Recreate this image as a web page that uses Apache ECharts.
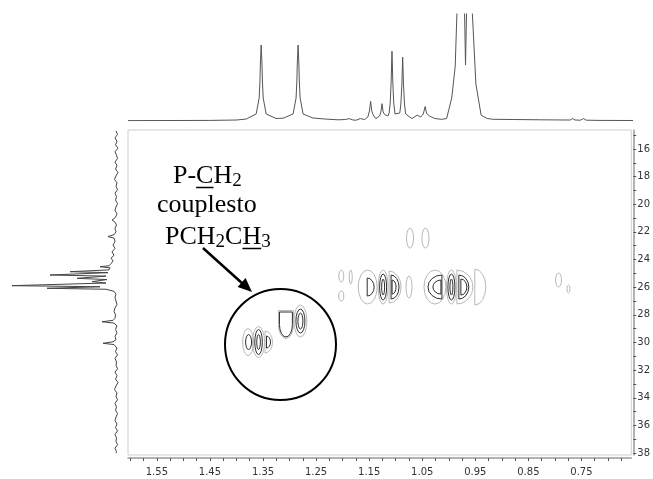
<!DOCTYPE html>
<html><head><meta charset="utf-8">
<script src="https://cdn.jsdelivr.net/npm/echarts@6/dist/echarts.min.js"></script>
<style>html,body{margin:0;padding:0;background:#fff}#c{width:653px;height:479px}</style>
</head><body><div id="c"></div>
<script>
// ---- axis data ----
const xTickLabels = [1.55, 1.45, 1.35, 1.25, 1.15, 1.05, 0.95, 0.85, 0.75];
const xTickMarks = [1.6,1.575,1.55,1.525,1.5,1.475,1.45,1.425,1.4,1.375,1.35,1.325,1.3,1.275,1.25,1.225,1.2,1.175,1.15,1.125,1.1,1.075,1.05,1.025,1.0,0.975,0.95,0.925,0.9,0.875,0.85,0.825,0.8,0.775,0.75,0.725,0.7,0.675];
const yTickLabels = [16,18,20,22,24,26,28,30,32,34,36,38];
const yTickMarks = [15,16,17,18,19,20,21,22,23,24,25,26,27,28,29,30,31,32,33,34,35,36,37,38];
const hRange = [0.6561, 1.6044];
const cRange = [14.63, 38.14];

// ---- 1H projection (top) ----
const topPpm = [1.6044,1.52,1.45,1.40,1.3823,1.3637,1.3581,1.3566,1.3558,1.3543,1.3528,1.3520,1.3505,1.3449,1.3263,1.313,1.2944,1.2888,1.2873,1.2865,1.2850,1.2835,1.2827,1.2812,1.2756,1.257,1.235,1.21,1.196,1.189,1.182,1.176,1.1682,1.160,1.1540,1.1510,1.1488,1.1466,1.1440,1.1391,1.1320,1.1295,1.1274,1.1253,1.1225,1.1197,1.1164,1.1140,1.1120,1.1102,1.1095,1.1087,1.1079,1.1072,1.1054,1.1030,1.1002,1.0940,1.0920,1.0901,1.0894,1.0886,1.0878,1.0871,1.0852,1.0830,1.0807,1.0711,1.0613,1.0548,1.0500,1.0485,1.0463,1.0440,1.0415,1.0386,1.028,1.0159,1.0061,0.9965,0.9900,0.9868,0.9820,0.9770,0.9735,0.9706,0.9675,0.9640,0.9605,0.9577,0.9511,0.9413,0.9300,0.9186,0.88,0.83,0.78,0.7740,0.7695,0.7650,0.755,0.7488,0.744,0.72,0.6561];
const topInt = [0.4,0.5,0.6,1.0,2,7,23,40,57,76,57,40,23,7,2.5,2.8,7,23,40,57,76,57,40,23,7,3,2,1.2,1.5,2.4,1,0.8,2.4,1.5,4,10,19.7,10,6,2.4,5,9,17.3,9,6.5,5.9,5,8,18,40,55,69.7,55,40,18,7,5,8,17,37,50,63.9,50,37,17,7,5,2.4,5.9,4,7,9,14.5,8,6,5,2.5,1.7,2.4,23.1,54.2,107,200,260,140,55.9,140,260,200,107,36.9,5.9,2.5,1.7,1.5,1.2,1.0,1.0,2.4,1.0,0.8,2.4,0.8,0.6,0.5];

// ---- 13C projection (left) ----
const leftPpm = [14.7,14.95,15.2,15.45,15.7,15.95,16.2,16.45,16.7,16.95,17.2,17.45,17.7,17.95,18.2,18.45,18.7,18.95,19.2,19.45,19.7,19.95,20.2,20.45,20.7,20.95,21.14,21.3,21.5,21.75,22.0,22.2,22.34,22.45,22.7,22.95,23.2,23.45,23.7,23.9,24.1,24.3,24.45,24.52,24.6,24.75,24.88,24.95,25.05,25.12,25.2,25.28,25.36,25.45,25.53,25.6,25.7,25.8,25.89,25.97,26.08,26.15,26.3,26.5,26.75,27.0,27.25,27.5,27.75,28.0,28.25,28.4,28.5,28.6,28.8,29.05,29.3,29.55,29.8,29.95,30.06,30.15,30.4,30.65,30.9,31.15,31.4,31.65,31.9,32.15,32.4,32.65,32.9,33.15,33.4,33.65,33.9,34.15,34.4,34.65,34.9,35.15,35.4,35.65,35.9,36.15,36.4,36.65,36.9,37.15,37.4,37.65,37.9,38.0];
const leftInt = [2,0.5,3,1,2.5,0,3,1.5,0.5,3,1,2.5,0,2,3.5,1,2,0.5,3,1.5,2.5,0.5,2,3,1,2.5,6,3,1.5,3,2,4,10,4,3,5,3,6,4,7,5,7,9,18,8,9,48,10,12,68,12,10,41,11,12,26,12,14,106,18,71,12,4,2,3,2,1,3,4,2.5,3,5,16,4,1,2.5,1,3,2,5,15,4,1,2.5,0.5,3,1.5,2,0.5,3,1,2.5,0,2,3.5,1,2,0.5,3,1.5,2.5,0.5,2,3,1,2.5,0.5,3,1.5,2,0.5,3,1.5,2];

// ---- 2D contours: [1H ppm, 13C ppm, halfWidth ppm, halfHeight ppm, shape(0 ellipse,1 D,2 reversed D,3 flat-top), level] ----
const contours = [
  [1.3781,29.97,0.0103,0.977,0,0],[1.3772,29.97,0.0056,0.543,0,2],
  [1.3584,29.97,0.0113,1.122,0,0],[1.3584,29.97,0.0071,0.905,0,2],[1.3584,29.97,0.0034,0.543,0,2],
  [1.3462,29.97,0.0141,0.796,1,0],[1.3434,29.97,0.0075,0.434,1,2],
  [1.3068,28.70,0.0141,1.013,3,0],[1.3068,28.70,0.0122,0.904,3,2],
  [1.2795,28.45,0.0122,1.158,0,0],[1.2795,28.45,0.0085,0.868,0,2],[1.2795,28.45,0.0047,0.579,0,2],
  [1.0730,22.45,0.0066,0.724,0,0],[1.0439,22.45,0.0066,0.724,0,0],
  [1.2025,25.20,0.0047,0.434,0,0],[1.2025,26.64,0.0047,0.362,0,0],[1.1847,25.27,0.0028,0.507,0,0],
  [1.1528,25.99,0.0178,1.23,0,0],[1.1537,25.99,0.0131,0.651,1,2],
  [1.1237,25.99,0.0094,1.23,0,0],[1.1237,25.99,0.0066,0.941,0,2],[1.1237,25.99,0.0028,0.579,0,2],
  [1.1124,25.99,0.0225,1.158,1,0],[1.1087,25.99,0.0150,0.868,1,2],[1.1068,25.99,0.0075,0.507,1,2],
  [1.0749,25.99,0.0056,0.796,0,0],
  [1.0260,25.99,0.0207,1.23,0,0],[1.0129,25.99,0.0263,0.868,2,2],[1.0148,25.99,0.0150,0.507,2,2],
  [0.9950,25.99,0.0094,1.23,0,0],[0.9950,25.99,0.0066,0.941,0,2],[0.9950,25.99,0.0028,0.579,0,2],
  [0.9847,25.99,0.0300,1.23,1,0],[0.9810,25.99,0.0188,0.868,1,2],[0.9772,25.99,0.0113,0.579,1,2],
  [0.9509,25.99,0.0207,1.302,1,0],
  [0.7932,25.48,0.0056,0.507,0,0],[0.7744,26.13,0.0028,0.289,0,0]
];
const levelColors = ['#b8b8b8', '#7a7a7a', '#2e2e2e'];

function renderContour(params, api) {
  const p = api.coord([api.value(0), api.value(1)]);
  const s = api.size([api.value(2), api.value(3)], [api.value(0), api.value(1)]);
  const rx = Math.abs(s[0]), ry = Math.abs(s[1]);
  const sh = api.value(4), lv = api.value(5);
  const x = p[0], y = p[1];
  let d;
  if (sh === 0) d = `M${x-rx} ${y}A${rx} ${ry} 0 1 0 ${x+rx} ${y}A${rx} ${ry} 0 1 0 ${x-rx} ${y}Z`;
  else if (sh === 1) d = `M${x} ${y-ry}A${rx} ${ry} 0 0 1 ${x} ${y+ry}Z`;
  else if (sh === 2) d = `M${x} ${y-ry}A${rx} ${ry} 0 0 0 ${x} ${y+ry}Z`;
  else d = `M${x-rx} ${y-ry}L${x+rx} ${y-ry}L${x+rx} ${y}A${rx} ${ry} 0 0 1 ${x-rx} ${y}Z`;
  return { type: 'path', shape: { pathData: d }, style: { fill: 'none', stroke: levelColors[lv], lineWidth: 1 } };
}

const chart = echarts.init(document.getElementById('c'), null, { renderer: 'canvas' });
const axisFont = { fontSize: 10, fontFamily: 'DejaVu Sans', color: '#333' };

// annotation text layout
const mctx = document.createElement('canvas').getContext('2d');
function tw(t, size) { mctx.font = size + 'px "Liberation Serif"'; return mctx.measureText(t).width; }
function textLine(segs, x0, baseY) {
  const els = []; let x = x0;
  segs.forEach(s => {
    const size = s.sub ? 19 : 26;
    const bl = s.sub ? baseY + 3 : baseY;
    els.push({ type: 'text', x: x, y: bl - 0.305 * size, silent: true,
      style: { text: s.t, fontSize: size, fontFamily: 'Liberation Serif', fill: '#000',
        textAlign: 'left', textVerticalAlign: 'middle', align: 'left', verticalAlign: 'middle' } });
    const w = tw(s.t, size);
    if (s.u) els.push({ type: 'line', silent: true, shape: { x1: x, y1: baseY + 3.5, x2: x + w, y2: baseY + 3.5 }, style: { stroke: '#000', lineWidth: 1.5 } });
    x += w;
  });
  return els;
}
const graphics = [].concat(
  textLine([{t:'P-'},{t:'C',u:1},{t:'H'},{t:'2',sub:1}], 173, 184),
  textLine([{t:'couplesto'}], 157, 213),
  textLine([{t:'PCH'},{t:'2',sub:1},{t:'C'},{t:'H',u:1},{t:'3',sub:1}], 165, 245),
  [
    { type: 'line', silent: true, shape: { x1: 203, y1: 248, x2: 243, y2: 284 }, style: { stroke: '#000', lineWidth: 2.5 } },
    { type: 'polygon', silent: true, shape: { points: [[252, 292], [237.6, 287.1], [245.6, 278.1]] }, style: { fill: '#000' } },
    { type: 'circle', silent: true, shape: { cx: 280.5, cy: 344.5, r: 55.5 }, style: { fill: 'none', stroke: '#000', lineWidth: 2 } }
  ]
);

chart.setOption({
  animation: false,
  backgroundColor: '#fff',
  grid: [
    { left: 128, top: 130, width: 505, height: 325, show: true, borderColor: '#cfcfcf', borderWidth: 1, backgroundColor: 'transparent' },
    { left: 128, top: 14, width: 505, height: 107 },
    { left: 0, top: 130, width: 118, height: 325 }
  ],
  xAxis: [
    { gridIndex: 0, type: 'value', min: hRange[0], max: hRange[1], inverse: true, position: 'bottom', offset: 3,
      axisLine: { show: true, lineStyle: { color: '#999', width: 1.5 } },
      axisTick: { show: true, customValues: xTickMarks, length: 3, lineStyle: { color: '#555' } },
      axisLabel: Object.assign({ customValues: xTickLabels, margin: 9, formatter: v => Number(v).toFixed(2) }, axisFont),
      splitLine: { show: false } },
    { gridIndex: 1, type: 'value', min: hRange[0], max: hRange[1], inverse: true, show: false },
    { gridIndex: 2, type: 'value', min: 0, max: 118, inverse: true, show: false }
  ],
  yAxis: [
    { gridIndex: 0, type: 'value', min: cRange[0], max: cRange[1], inverse: true, position: 'right', offset: 2,
      axisLine: { show: true, lineStyle: { color: '#999', width: 1.5 } },
      axisTick: { show: true, customValues: yTickMarks, length: 3, lineStyle: { color: '#555' } },
      axisLabel: Object.assign({ customValues: yTickLabels, margin: 4, formatter: v => String(v) }, axisFont),
      splitLine: { show: false } },
    { gridIndex: 1, type: 'value', min: 0, max: 107, show: false },
    { gridIndex: 2, type: 'value', min: cRange[0], max: cRange[1], inverse: true, show: false }
  ],
  series: [
    { type: 'line', xAxisIndex: 1, yAxisIndex: 1, symbol: 'none', clip: true,
      lineStyle: { color: '#555', width: 1 }, data: topPpm.map((p, i) => [p, topInt[i]]) },
    { type: 'line', xAxisIndex: 2, yAxisIndex: 2, symbol: 'none', clip: true,
      lineStyle: { color: '#444', width: 1 }, data: leftPpm.map((c, i) => [leftInt[i], c]) },
    { type: 'custom', xAxisIndex: 0, yAxisIndex: 0, renderItem: renderContour, clip: true,
      encode: { x: 0, y: 1 }, data: contours }
  ],
  graphic: graphics
});
</script>
</body></html>
